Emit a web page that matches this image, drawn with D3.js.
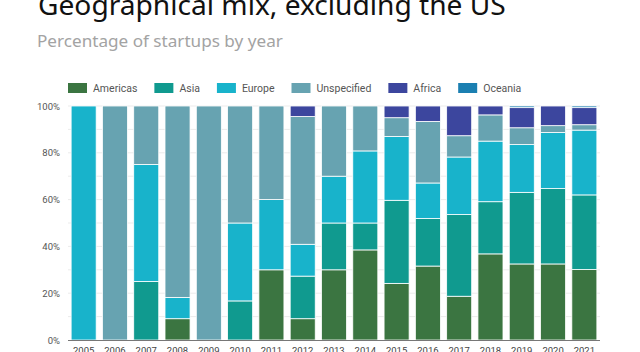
<!DOCTYPE html>
<html>
<head>
<meta charset="utf-8">
<script src="https://cdn.jsdelivr.net/npm/d3@7"></script>
<style>
  body { margin: 0; background: #fff; }
  svg { display: block; }
</style>
</head>
<body>
<div id="container"></div>
<script>
/* CONSTANTS AND GLOBALS */
const width = 640,
  height = 352,
  margin = { top: 106, bottom: 12, left: 68, right: 40 };

/* DATA (percent of startups) */
const years = ["2005","2006","2007","2008","2009","2010","2011","2012","2013","2014","2015","2016","2017","2018","2019","2020","2021"];
const categories = ["Americas", "Asia", "Europe", "Unspecified", "Africa", "Oceania"];
const americas    = [0, 0, 0, 9.1, 0, 0, 30, 9.1, 30, 38.5, 24.2, 31.6, 18.7, 36.8, 32.5, 32.5, 30.1];
const asia        = [0, 0, 25, 0, 0, 16.7, 0, 18.2, 20, 11.5, 35.5, 20.3, 34.9, 22.3, 30.6, 32.2, 31.9];
const europe      = [100, 0, 50, 9.1, 0, 33.3, 30, 13.6, 20, 30.8, 27.3, 15.2, 24.6, 25.9, 20.4, 24.0, 27.7];
const unspecified = [0, 100, 25, 81.8, 100, 50, 40, 54.6, 30, 19.2, 8, 26.3, 9.1, 11.2, 7.2, 2.9, 2.3];
const africa      = [0, 0, 0, 0, 0, 0, 0, 4.5, 0, 0, 5, 6.6, 12.7, 3.8, 8.6, 8.4, 7.3];
const oceania     = [0, 0, 0, 0, 0, 0, 0, 0, 0, 0, 0, 0, 0, 0, 0.7, 0, 0.7];
const yTicks = [0, 20, 40, 60, 80, 100];
const colors = ["#3b7541", "#109a8f", "#18b3cb", "#67a3b1", "#3c469e", "#1b7fb1"];

const series = [americas, asia, europe, unspecified, africa, oceania];
const table = years.map((y, i) => {
  const row = { year: y };
  categories.forEach((c, j) => row[c] = series[j][i]);
  return row;
});

/* SCALES */
const xScale = d3.scaleBand()
  .domain(years)
  .range([margin.left, width - margin.right])
  .paddingInner(0.2)
  .paddingOuter(0.1);

const yScale = d3.scaleLinear()
  .domain([0, 100])
  .range([height - margin.bottom, margin.top]);

const colorScale = d3.scaleOrdinal()
  .domain(categories)
  .range(colors);

const stacked = d3.stack().keys(categories)(table);

/* HTML ELEMENTS */
const svg = d3.select("#container")
  .append("svg")
  .attr("width", width)
  .attr("height", height);

// title + subtitle
const title = svg.append("text")
  .attr("x", 38)
  .attr("y", 15)
  .attr("font-family", "'Noto Sans', sans-serif")
  .attr("font-size", 28)
  .attr("fill", "#111")
  .text("Geographical mix, excluding the US");
// fit to the width seen in the reference
const tw = title.node().getComputedTextLength();
title.attr("font-size", 28 * 468 / tw);

const sub = svg.append("text")
  .attr("x", 37)
  .attr("y", 47)
  .attr("font-family", "'Noto Sans', sans-serif")
  .attr("font-size", 16)
  .attr("fill", "#a3a3a3")
  .text("Percentage of startups by year");
const sw = sub.node().getComputedTextLength();
sub.attr("font-size", 16 * 246 / sw);

// gridlines every 10%
svg.append("g")
  .selectAll("line")
  .data(d3.range(10, 101, 10))
  .join("line")
  .attr("x1", margin.left)
  .attr("x2", width - margin.right)
  .attr("y1", d => yScale(d))
  .attr("y2", d => yScale(d))
  .attr("stroke", "#ebebeb")
  .attr("stroke-width", 1);

// stacked bars
svg.append("g")
  .selectAll("g")
  .data(stacked)
  .join("g")
  .attr("fill", d => colorScale(d.key))
  .selectAll("rect")
  .data(d => d.filter(s => s[1] - s[0] > 0))
  .join("rect")
  .attr("x", d => xScale(d.data.year))
  .attr("width", xScale.bandwidth())
  .attr("y", d => yScale(d[1]))
  .attr("height", d => yScale(d[0]) - yScale(d[1]))
  .attr("stroke", "#fff")
  .attr("stroke-width", 0.8);

// y axis labels
const yAxis = d3.axisLeft(yScale)
  .tickValues(yTicks)
  .tickFormat(d => d + "%")
  .tickSize(0)
  .tickPadding(8);
const yg = svg.append("g")
  .attr("transform", `translate(${margin.left}, 0)`)
  .call(yAxis);
yg.select(".domain").remove();
yg.selectAll("text")
  .attr("font-family", "Roboto, sans-serif")
  .attr("font-size", 9.5)
  .attr("fill", "#555");

// x axis
const xAxis = d3.axisBottom(xScale).tickSize(0).tickPadding(7);
const xg = svg.append("g")
  .attr("transform", `translate(0, ${height - margin.bottom})`)
  .call(xAxis);
xg.select(".domain")
  .attr("stroke", "#777")
  .attr("d", `M${margin.left},0.5H${width - margin.right}`);
xg.selectAll("text")
  .attr("font-family", "Roboto, sans-serif")
  .attr("font-size", 9.5)
  .attr("fill", "#444");

// legend
const legend = svg.append("g").attr("transform", "translate(68, 83)");
let lx = 0;
categories.forEach(c => {
  const item = legend.append("g").attr("transform", `translate(${lx}, 0)`);
  item.append("rect")
    .attr("width", 19)
    .attr("height", 10)
    .attr("fill", colorScale(c));
  const t = item.append("text")
    .attr("x", 25)
    .attr("y", 5)
    .attr("dy", "0.35em")
    .attr("font-family", "Roboto, sans-serif")
    .attr("font-size", 10.5)
    .attr("fill", "#555")
    .text(c);
  lx += 25 + t.node().getComputedTextLength() + 17;
});
</script>
</body>
</html>
